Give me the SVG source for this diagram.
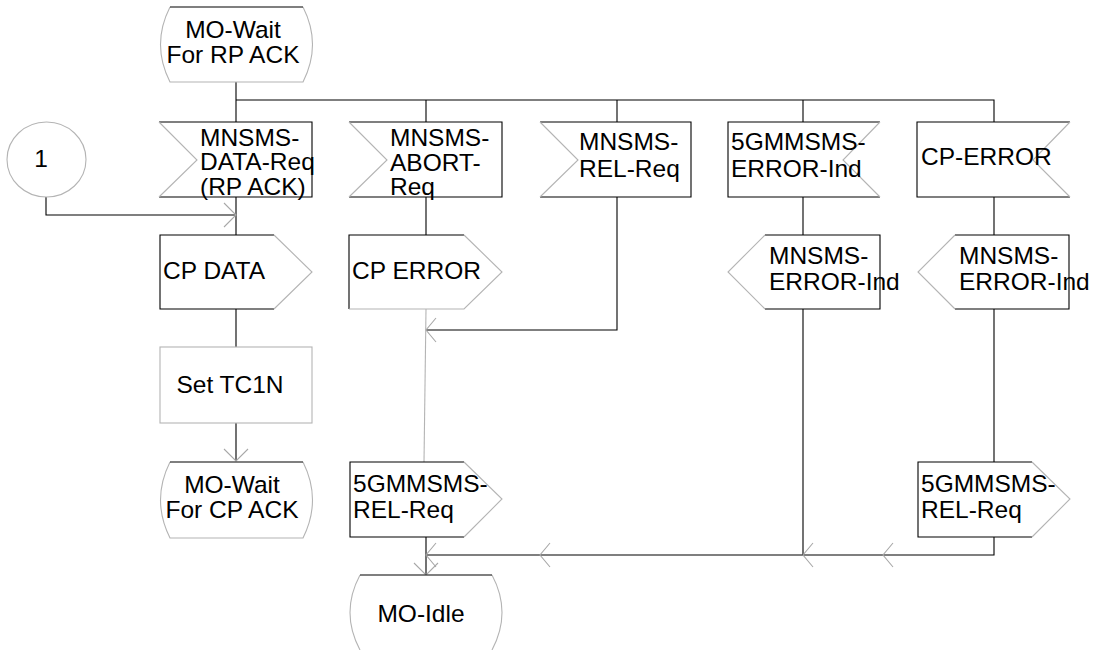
<svg xmlns="http://www.w3.org/2000/svg" width="1096" height="650" viewBox="0 0 1096 650">
<style>
text{font-family:"Liberation Sans",Arial,Helvetica,sans-serif;font-size:24.5px;fill:#000}
.blk{fill:none;stroke:#000;stroke-width:1.1}
.gry{fill:none;stroke:#b4b4b4;stroke-width:1.1}
.bg{fill:#fff;stroke:none}
.ln{fill:none;stroke:#000;stroke-width:1.1}
.gl{fill:none;stroke:#b4b4b4;stroke-width:1.1}
.ah{fill:none;stroke:#a8a8a8;stroke-width:1.1}
.mid{text-anchor:middle}
</style>
<rect width="1096" height="650" fill="#fff"/>

<g id="connectors">
  <path class="ln" d="M236,82 V122 M236,100 H994 V122 M426,100 V122 M617,100 V122 M803,100 V122"/>
  <path class="ln" d="M46,197 V215 H236"/>
  <path class="ln" d="M236,197 V235 M236,309 V347 M236,423 V461"/>
  <path class="ln" d="M426,197 V235"/>
  <path class="ln" d="M617,197 V330 H426"/>
  <path class="gl" d="M426,309 L424,462"/>
  <path class="ln" d="M426,537 V575 M994,537 V555 H426"/>
  <path class="ln" d="M803,197 V235 M803,309 V555"/>
  <path class="ln" d="M994,197 V235 M994,309 V462"/>
  <path class="ah" d="M224,203 L236,215 L224,227"/>
  <path class="ah" d="M224,449 L236,461 L248,449"/>
  <path class="ah" d="M436,318 L426,330 L436,342"/>
  <path class="ah" d="M436,543 L426,555 L436,567"/>
  <path class="ah" d="M414,563 L426,575 L438,563"/>
  <path class="ah" d="M550,543 L540,555 L550,567"/>
  <path class="ah" d="M813,543 L803,555 L813,567"/>
  <path class="ah" d="M893,543 L883,555 L893,567"/>
</g>

<g id="state_wait_rp_ack">
  <path class="bg" d="M170,7 L303,7 Q322,44.5 303,82 L170,82 Q151,44.5 170,7 Z"/>
  <path class="gry" d="M303,7 Q322,44.5 303,82 L170,82 Q151,44.5 170,7"/>
  <path class="blk" d="M170,7 H303"/>
  <text class="mid"><tspan x="233" y="38">MO-Wait</tspan><tspan x="233" y="63">For RP ACK</tspan></text>
</g>

<g id="connector_1">
  <ellipse cx="46.5" cy="159.5" rx="39.5" ry="37.5" fill="#fff" stroke="#b4b4b4" stroke-width="1.1"/>
  <text class="mid" x="41" y="167">1</text>
</g>

<g id="in_data_req">
  <path class="bg" d="M159,122 H312 V197 H159 L197,160 Z"/>
  <path class="blk" d="M159,122 H312 V197 H159"/>
  <path class="gry" d="M159,122 L197,160 L159,197"/>
  <text><tspan x="200" y="145.5">MNSMS-</tspan><tspan x="200" y="170.2">DATA-Req</tspan><tspan x="200" y="194.9">(RP ACK)</tspan></text>
</g>

<g id="in_abort_req">
  <path class="bg" d="M349,122 H502 V197 H349 L387,160 Z"/>
  <path class="blk" d="M349,122 H502 V197 H349"/>
  <path class="gry" d="M349,122 L387,160 L349,197"/>
  <text><tspan x="390" y="146">MNSMS-</tspan><tspan x="390" y="170.7">ABORT-</tspan><tspan x="390" y="195.4">Req</tspan></text>
</g>

<g id="in_rel_req">
  <path class="bg" d="M540,122 H691 V197 H540 L578,160 Z"/>
  <path class="blk" d="M540,122 H691 V197 H540"/>
  <path class="gry" d="M540,122 L578,160 L540,197"/>
  <text><tspan x="579" y="150">MNSMS-</tspan><tspan x="579" y="177">REL-Req</tspan></text>
</g>

<g id="in_5gmm_error_ind">
  <path class="bg" d="M728,122 H880 L843,160 L880,197 H728 Z"/>
  <path class="blk" d="M880,122 H728 V197 H880"/>
  <path class="gry" d="M880,122 L843,160 L880,197"/>
  <text><tspan x="731" y="150">5GMMSMS-</tspan><tspan x="731" y="177">ERROR-Ind</tspan></text>
</g>

<g id="in_cp_error">
  <path class="bg" d="M917,122 H1070 L1033,160 L1070,197 H917 Z"/>
  <path class="blk" d="M1070,122 H917 V197 H1070"/>
  <path class="gry" d="M1070,122 L1033,160 L1070,197"/>
  <text x="921" y="165">CP-ERROR</text>
</g>

<g id="out_cp_data">
  <path class="bg" d="M160,235 H274 L312,272 L274,309 H160 Z"/>
  <path class="blk" d="M274,235 H160 V309 H274"/>
  <path class="gry" d="M274,235 L312,272 L274,309"/>
  <text x="163" y="279">CP DATA</text>
</g>

<g id="out_cp_error">
  <path class="bg" d="M349,235 H464 L502,272 L464,309 H349 Z"/>
  <path class="blk" d="M464,235 H349 V309"/>
  <path class="gry" d="M464,235 L502,272 L464,309 H349"/>
  <text x="352" y="279">CP ERROR</text>
</g>

<g id="out_mnsms_error_ind_1">
  <path class="bg" d="M728,272 L765,235 H880 V309 H765 Z"/>
  <path class="blk" d="M765,235 H880 V309 H765"/>
  <path class="gry" d="M765,235 L728,272 L765,309"/>
  <text><tspan x="769" y="264">MNSMS-</tspan><tspan x="769" y="290">ERROR-Ind</tspan></text>
</g>

<g id="out_mnsms_error_ind_2">
  <path class="bg" d="M918,272 L955,235 H1069 V309 H955 Z"/>
  <path class="blk" d="M955,235 H1069 V309 H955"/>
  <path class="gry" d="M955,235 L918,272 L955,309"/>
  <text><tspan x="959" y="264">MNSMS-</tspan><tspan x="959" y="290">ERROR-Ind</tspan></text>
</g>

<g id="task_set_tc1n">
  <rect x="160" y="347" width="152" height="76" fill="#fff" stroke="#b4b4b4" stroke-width="1.1"/>
  <text class="mid" x="230" y="393">Set TC1N</text>
</g>

<g id="state_wait_cp_ack">
  <path class="bg" d="M170,462 L303,462 Q322,500 303,538 L170,538 Q151,500 170,462 Z"/>
  <path class="gry" d="M303,462 Q322,500 303,538 L170,538 Q151,500 170,462"/>
  <path class="blk" d="M170,462 H303"/>
  <text class="mid"><tspan x="232" y="493">MO-Wait</tspan><tspan x="232" y="518">For CP ACK</tspan></text>
</g>

<g id="out_rel_req_1">
  <path class="bg" d="M350,462 H464 L502,499 L464,537 H350 Z"/>
  <path class="blk" d="M464,462 H350 V537 H464"/>
  <path class="gry" d="M464,462 L502,499 L464,537"/>
  <text><tspan x="353" y="492">5GMMSMS-</tspan><tspan x="353" y="518">REL-Req</tspan></text>
</g>

<g id="out_rel_req_2">
  <path class="bg" d="M918,462 H1032 L1070,499 L1032,537 H918 Z"/>
  <path class="blk" d="M1032,462 H918 V537 H1032"/>
  <path class="gry" d="M1032,462 L1070,499 L1032,537"/>
  <text><tspan x="921" y="492">5GMMSMS-</tspan><tspan x="921" y="518">REL-Req</tspan></text>
</g>

<g id="state_mo_idle">
  <path class="bg" d="M360,575 L492,575 Q512,612.5 492,650 L360,650 Q340,612.5 360,575 Z"/>
  <path class="gry" d="M492,575 Q512,612.5 492,650 M360,650 Q340,612.5 360,575"/>
  <path class="blk" d="M360,575 H492"/>
  <text class="mid" x="421" y="622">MO-Idle</text>
</g>
</svg>
